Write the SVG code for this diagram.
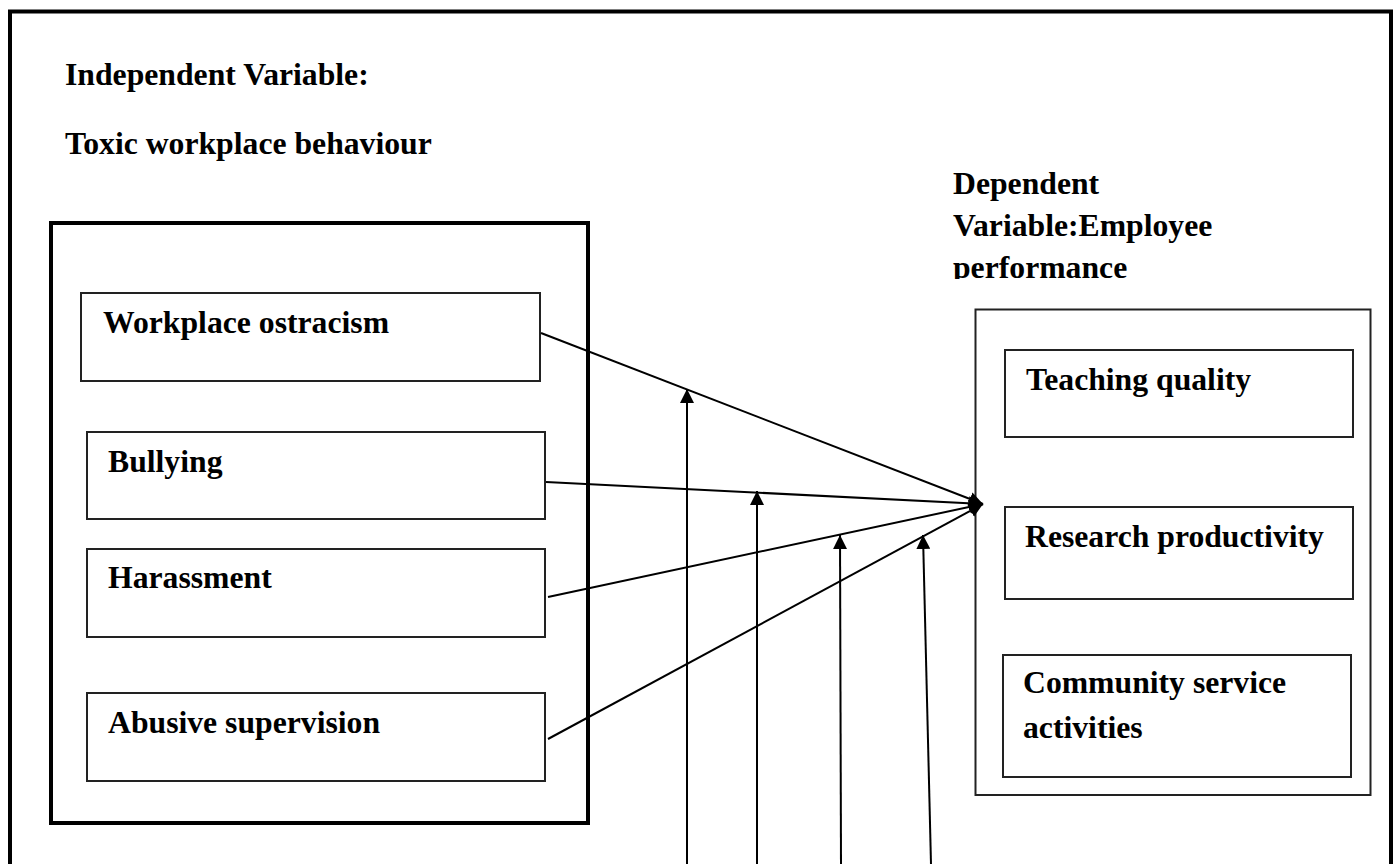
<svg xmlns="http://www.w3.org/2000/svg" width="1400" height="864" viewBox="0 0 1400 864">
  <defs>
    <style>
      .lbl { font-family: "Liberation Serif", "Times New Roman", serif; font-weight: bold; font-size: 31.7px; fill: #000; }
      .box { fill: #fff; stroke: #222; stroke-width: 2; }
      .heavy { fill: none; stroke: #000; stroke-width: 4; }
      .conn { fill: none; stroke: #000; stroke-width: 2; }
    </style>
    <marker id="arr" viewBox="0 0 14 14" markerUnits="userSpaceOnUse" markerWidth="14" markerHeight="14" refX="14" refY="7" orient="auto">
      <path d="M0,0 L14,7 L0,14 z" fill="#000"/>
    </marker>
    <clipPath id="depClip">
      <rect x="900" y="150" width="400" height="129"/>
    </clipPath>
  </defs>

  <rect width="1400" height="864" fill="#fff"/>

  <g id="frame">
    <rect class="heavy" x="10" y="11.5" width="1381" height="900"/>
  </g>

  <g id="independent-title">
    <text class="lbl" x="65" y="85">Independent Variable:</text>
    <text class="lbl" x="65" y="154">Toxic workplace behaviour</text>
  </g>

  <g id="independent-group">
    <rect class="heavy" x="51" y="223" width="537" height="600"/>
  </g>

  <g id="node-ostracism">
    <rect class="box" x="81" y="293" width="459" height="88"/>
    <text class="lbl" x="103" y="333">Workplace ostracism</text>
  </g>
  <g id="node-bullying">
    <rect class="box" x="87" y="432" width="458" height="87"/>
    <text class="lbl" x="108" y="472">Bullying</text>
  </g>
  <g id="node-harassment">
    <rect class="box" x="87" y="549" width="458" height="88"/>
    <text class="lbl" x="108" y="588">Harassment</text>
  </g>
  <g id="node-abusive">
    <rect class="box" x="87" y="693" width="458" height="88"/>
    <text class="lbl" x="108" y="733">Abusive supervision</text>
  </g>

  <g id="dependent-title" clip-path="url(#depClip)">
    <text class="lbl" x="953" y="194">Dependent</text>
    <text class="lbl" x="953" y="236">Variable:Employee</text>
    <text class="lbl" x="953" y="278">performance</text>
  </g>

  <g id="dependent-group">
    <rect class="box" x="975.5" y="309.5" width="395" height="485.5"/>
  </g>

  <g id="node-teaching">
    <rect class="box" x="1005" y="350" width="348" height="87"/>
    <text class="lbl" x="1026" y="390">Teaching quality</text>
  </g>
  <g id="node-research">
    <rect class="box" x="1005" y="507" width="348" height="92"/>
    <text class="lbl" x="1025" y="547">Research productivity</text>
  </g>
  <g id="node-community">
    <rect class="box" x="1003" y="655" width="348" height="122"/>
    <text class="lbl" x="1023" y="693">Community service</text>
    <text class="lbl" x="1023" y="738">activities</text>
  </g>

  <g id="connectors">
    <line class="conn" x1="541" y1="333" x2="983" y2="504" marker-end="url(#arr)"/>
    <line class="conn" x1="546" y1="482" x2="983" y2="504" marker-end="url(#arr)"/>
    <line class="conn" x1="548" y1="597" x2="983" y2="504" marker-end="url(#arr)"/>
    <line class="conn" x1="548" y1="739" x2="983" y2="504" marker-end="url(#arr)"/>
    <line class="conn" x1="687" y1="864" x2="687" y2="389" marker-end="url(#arr)"/>
    <line class="conn" x1="757" y1="864" x2="757" y2="491" marker-end="url(#arr)"/>
    <line class="conn" x1="841" y1="864" x2="840" y2="535" marker-end="url(#arr)"/>
    <line class="conn" x1="931" y1="864" x2="923" y2="535" marker-end="url(#arr)"/>
  </g>
</svg>
